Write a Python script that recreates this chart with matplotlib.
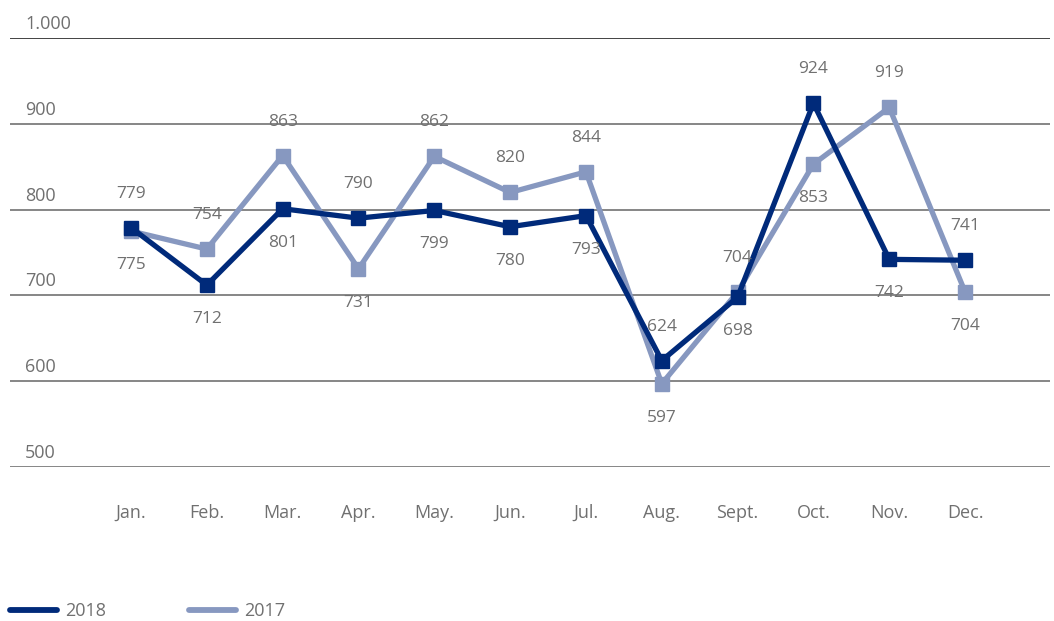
import matplotlib.pyplot as plt

months = ['Jan.', 'Feb.', 'Mar.', 'Apr.', 'May.', 'Jun.', 'Jul.', 'Aug.', 'Sept.', 'Oct.', 'Nov.', 'Dec.']
values_2018 = [779, 712, 801, 790, 799, 780, 793, 624, 698, 924, 742, 741]
values_2017 = [775, 754, 863, 731, 862, 820, 844, 597, 704, 853, 919, 704]
y_ticks = [500, 600, 700, 800, 900, 1000]
y_tick_labels = ['500', '600', '700', '800', '900', '1.000']

dark = '#002a7a'
light = '#8798c0'
txt = '#707070'

plt.rcParams['font.family'] = ['Open Sans', 'DejaVu Sans']

fig = plt.figure(figsize=(10.54, 6.21), dpi=100)
ax = fig.add_axes([10 / 1054, 1 - 467 / 621, 1040 / 1054, 429 / 621])
ax.set_ylim(500, 1000)
ax.set_xlim(-1.596, 12.12)

# grid lines + labels sitting on them
for v, lab in zip(y_ticks, y_tick_labels):
    ax.axhline(v, color='#111111' if v == 1000 else '#666666', lw=1.1, zorder=1)
    ax.annotate(lab, (0, v), xycoords=('axes fraction', 'data'),
                xytext=(15, 5), textcoords='offset pixels', ha='left', va='bottom',
                fontsize=13, color=txt)

x = list(range(len(months)))
ax.plot(x, values_2017, color=light, lw=3.8, marker='s', ms=10, zorder=3, label='2017')
ax.plot(x, values_2018, color=dark, lw=3.8, marker='s', ms=10, zorder=4, label='2018')

# value labels: higher value above, lower below
for i in x:
    a, b = values_2018[i], values_2017[i]
    hi, lo = max(a, b), min(a, b)
    ax.annotate(str(hi), (i, hi), xytext=(0, 34), textcoords='offset pixels',
                ha='center', va='center', fontsize=12.5, color=txt, zorder=5)
    ax.annotate(str(lo), (i, lo), xytext=(0, -34), textcoords='offset pixels',
                ha='center', va='center', fontsize=12.5, color=txt, zorder=5)

for i, m in enumerate(months):
    ax.annotate(m, (i, 500), xytext=(0, -46), textcoords='offset pixels',
                ha='center', va='center', fontsize=13, color=txt)

for s in ax.spines.values():
    s.set_visible(False)
ax.set_xticks([])
ax.set_yticks([])

h, l = ax.get_legend_handles_labels()
leg = fig.legend(h[::-1], l[::-1], loc='center left', bbox_to_anchor=(10 / 1054, 1 - 611 / 621),
                 ncol=2, frameon=False, handlelength=2.6, handletextpad=0.45,
                 columnspacing=4.6, fontsize=13, borderaxespad=0, borderpad=0)
for line in leg.get_lines():
    line.set_marker('')
    line.set_linewidth(4.2)
    line.set_solid_capstyle('round')
for t in leg.get_texts():
    t.set_color(txt)

fig.savefig('out.png', dpi=100)
